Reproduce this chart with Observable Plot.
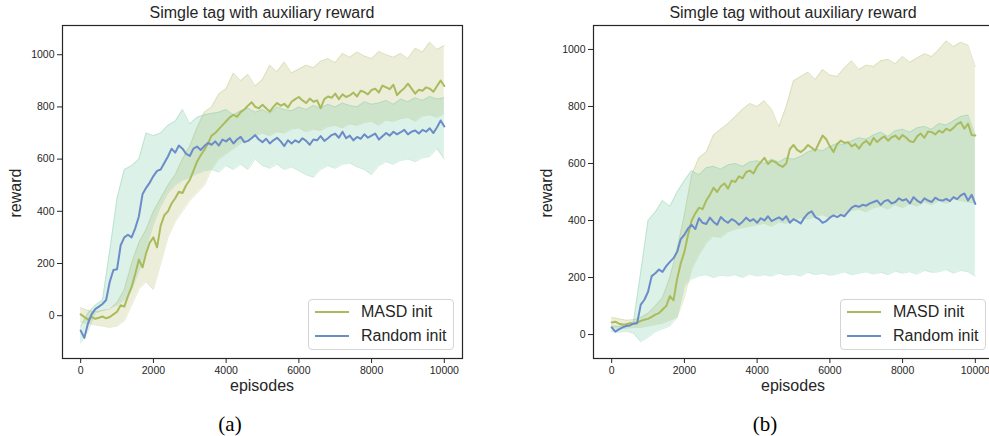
<!DOCTYPE html>
<html>
<head>
<meta charset="utf-8">
<script src="https://cdn.jsdelivr.net/npm/d3@7"></script>
<script src="https://cdn.jsdelivr.net/npm/@observablehq/plot@0.6"></script>
<style>
  html, body { margin: 0; padding: 0; background: #fff; }
  body { width: 989px; height: 436px; overflow: hidden; position: relative; font-family: "Liberation Sans", Arial, sans-serif; color: #262626; }
  .abs { position: absolute; }
  .ctr { position: absolute; transform: translate(-50%, -50%); white-space: nowrap; line-height: 16px; }
  .title { font-size: 16px; }
  .alabel { font-size: 16px; }
  .caption { font-family: "Liberation Serif", "Times New Roman", serif; font-size: 21px; color: #000; line-height: 21px; }
  .legend { position: absolute; border: 1px solid #d4d4d4; border-radius: 4px; background: rgba(255,255,255,0.85); box-sizing: border-box; }
  .legend .sw { position: absolute; height: 2px; width: 34px; }
  .legend .lt { position: absolute; font-size: 16px; line-height: 16px; transform: translateY(-50%); white-space: nowrap; }
</style>
</head>
<body>
<script>
// ---------------- data ----------------
const titles = ["Simgle tag with auxiliary reward", "Simgle tag without auxiliary reward"];
const captions = ["(a)", "(b)"];
const seriesNames = ["MASD init", "Random init"];
const xTicks = [0, 2000, 4000, 6000, 8000, 10000];
const yTicks = [0, 200, 400, 600, 800, 1000];
const episodesMean = d3.range(0, 10001, 100);   // 101 samples
const episodesBand = d3.range(0, 10001, 200);   // 51 samples

// Panel (a): with auxiliary reward
const aMasdMean = [
  5,-5,-15,-5,-12,-8,-3,-10,-5,5,
  15,40,35,75,110,160,215,185,240,280,
  300,262,345,385,400,430,450,475,470,500,
  520,555,590,615,635,660,690,700,715,730,
  745,760,770,762,780,790,805,818,800,795,
  808,795,782,800,815,805,812,798,820,830,
  838,825,815,832,820,825,795,830,840,835,
  851,830,848,838,844,855,840,862,857,848,
  865,870,855,882,875,868,885,845,860,872,
  889,870,851,866,862,875,870,858,880,901,
  880];
const aRandomMean = [
  -57,-85,-30,5,25,35,45,60,130,175,
  178,270,300,310,300,335,380,465,490,510,
  535,555,560,585,610,640,625,652,640,620,
  612,640,648,635,650,662,655,668,652,675,
  668,680,660,675,685,665,670,680,692,675,
  665,678,660,672,682,668,650,672,660,672,
  664,680,670,655,675,672,688,670,680,692,
  697,682,705,680,690,672,685,678,695,682,
  690,698,675,688,700,690,705,695,703,712,
  695,705,710,698,712,705,718,700,722,748,
  725];
const aMasdLow = [
  -25,-30,-35,-40,-45,-40,-20,40,100,130,
  100,200,300,360,400,440,470,500,560,600,
  620,640,660,680,690,700,690,705,700,715,
  720,705,715,710,725,730,720,735,730,740,
  745,730,750,745,755,760,745,765,770,760,
  775];
const aMasdHigh = [
  30,20,15,20,25,50,100,200,280,330,
  400,450,500,540,600,650,720,780,800,850,
  870,930,900,925,880,905,960,935,972,930,
  945,960,950,975,985,970,1005,990,1010,995,
  985,1012,1000,990,1005,985,1025,1010,1048,1020,
  1035];
const aRandomLow = [
  -105,-60,10,20,30,40,60,100,170,260,
  350,420,470,500,520,530,545,555,560,550,
  575,560,580,560,600,575,565,580,560,570,
  555,540,530,560,575,565,580,585,570,560,
  540,575,590,580,595,600,590,605,610,640,
  600];
const aRandomHigh = [
  -40,10,40,60,250,450,560,575,600,700,
  690,700,730,745,790,735,760,770,775,780,
  790,770,785,795,780,790,775,800,790,785,
  800,790,805,795,810,800,815,805,800,820,
  810,815,825,810,830,820,835,825,840,830,
  835];

// Panel (b): without auxiliary reward
const bMasdMean = [
  42,45,38,35,36,40,38,42,48,52,
  55,62,70,75,88,100,135,120,195,250,
  290,350,400,425,445,440,470,490,515,500,
  520,530,512,540,535,555,548,570,575,565,
  590,605,620,598,610,605,595,588,600,650,
  665,648,640,650,665,655,645,672,698,685,
  660,640,668,680,672,675,660,668,652,670,
  680,665,690,675,687,695,680,692,698,685,
  700,690,678,675,695,705,690,712,710,702,
  715,708,722,715,725,738,745,722,740,700,
  698];
const bRandomMean = [
  25,10,18,25,30,32,38,40,105,122,
  150,205,215,228,220,240,255,268,290,335,
  350,372,385,370,408,392,388,410,395,385,
  412,400,392,405,398,385,396,410,398,405,
  392,408,400,415,398,405,411,402,415,392,
  405,398,390,410,425,432,412,405,392,398,
  410,418,412,420,415,430,445,452,448,455,
  452,460,465,470,455,468,472,460,465,478,
  470,475,460,482,470,462,478,470,465,480,
  472,470,476,468,482,475,488,495,470,490,
  458];
const bMasdLow = [
  25,20,22,25,25,30,35,40,50,60,
  130,230,280,320,345,340,360,370,375,380,
  385,390,380,395,390,400,410,405,415,420,
  410,425,420,435,440,430,445,450,440,455,
  445,460,450,465,455,470,460,475,470,465,
  460];
const bMasdHigh = [
  60,55,50,52,60,75,100,130,200,300,
  420,560,620,640,700,720,740,765,790,810,
  800,820,790,730,800,890,905,920,895,930,
  910,905,935,960,930,945,940,960,965,950,
  975,955,970,985,975,1000,1030,1010,1025,1015,
  940];
const bRandomLow = [
  10,8,12,5,-25,-10,10,20,30,60,
  170,195,205,210,200,208,205,210,200,212,
  205,210,205,215,208,212,205,218,210,215,
  208,212,220,210,215,220,212,218,210,222,
  215,220,212,225,218,220,228,215,225,220,
  205];
const bRandomHigh = [
  30,28,35,45,220,400,430,470,450,500,
  540,575,560,585,590,580,595,600,590,605,
  610,600,615,605,620,615,625,640,650,645,
  660,670,665,680,690,685,700,710,695,715,
  720,710,725,730,720,740,735,750,765,770,
  700];

// ---------------- styling ----------------
const masdLine = "#a9bb5c";
const randomLine = "#6b8cc8";
const masdBand = "#b3bd6a";
const randomBand = "#6cc49a";
const ink = "#262626";

const lineRows = (vals) => episodesMean.map((ep, i) => ({ep, v: vals[i]}));
const bandRows = (lo, hi) => episodesBand.map((ep, i) => ({ep, lo: lo[i], hi: hi[i]}));

function panel(cfg) {
  const mb = bandRows(cfg.masdLow, cfg.masdHigh);
  const rb = bandRows(cfg.randomLow, cfg.randomHigh);
  return Plot.plot({
    width: cfg.width, height: 380,
    marginLeft: cfg.marginLeft, marginRight: cfg.marginRight, marginTop: 25, marginBottom: 22,
    x: {domain: [-500, 10500]},
    y: {domain: cfg.yDomain},
    style: {fontFamily: "'Liberation Sans', Arial, sans-serif", fontSize: "10.5px", color: ink, background: "transparent", overflow: "visible"},
    marks: [
      Plot.areaY(mb, {x: "ep", y1: "lo", y2: "hi", fill: masdBand, fillOpacity: 0.25}),
      Plot.lineY(mb, {x: "ep", y: "hi", stroke: masdBand, strokeOpacity: 0.3, strokeWidth: 1}),
      Plot.lineY(mb, {x: "ep", y: "lo", stroke: masdBand, strokeOpacity: 0.3, strokeWidth: 1}),
      Plot.areaY(rb, {x: "ep", y1: "lo", y2: "hi", fill: randomBand, fillOpacity: 0.24}),
      Plot.lineY(rb, {x: "ep", y: "hi", stroke: randomBand, strokeOpacity: 0.3, strokeWidth: 1}),
      Plot.lineY(rb, {x: "ep", y: "lo", stroke: randomBand, strokeOpacity: 0.3, strokeWidth: 1}),
      Plot.lineY(lineRows(cfg.masdMean), {x: "ep", y: "v", stroke: masdLine, strokeWidth: 2}),
      Plot.lineY(lineRows(cfg.randomMean), {x: "ep", y: "v", stroke: randomLine, strokeWidth: 2}),
      Plot.frame({stroke: ink, strokeWidth: 1.2}),
      Plot.axisX({ticks: xTicks, tickSize: 5, tickPadding: 3, tickFormat: d => String(d), label: null, stroke: ink}),
      Plot.axisY({ticks: yTicks, tickSize: 5, tickPadding: 3, tickFormat: d => String(d), label: null, stroke: ink})
    ]
  });
}

function place(el, left, top) {
  el.style.position = "absolute";
  el.style.left = left + "px";
  el.style.top = top + "px";
  document.body.appendChild(el);
}

function text(cls, str, cx, cy, rotate) {
  const d = document.createElement("div");
  d.className = "ctr " + cls;
  d.textContent = str;
  d.style.left = cx + "px";
  d.style.top = cy + "px";
  if (rotate) d.style.transform = "translate(-50%, -50%) rotate(-90deg)";
  document.body.appendChild(d);
}

function legend(left, top) {
  const box = document.createElement("div");
  box.className = "legend";
  box.style.left = left + "px"; box.style.top = top + "px";
  box.style.width = "146px"; box.style.height = "51px";
  [[seriesNames[0], masdLine, 12], [seriesNames[1], randomLine, 36]].forEach(([name, col, y]) => {
    const sw = document.createElement("div");
    sw.className = "sw"; sw.style.background = col;
    sw.style.left = "6px"; sw.style.top = (y - 1) + "px";
    box.appendChild(sw);
    const t = document.createElement("div");
    t.className = "lt"; t.textContent = name;
    t.style.left = "52px"; t.style.top = y + "px";
    box.appendChild(t);
  });
  document.body.appendChild(box);
}

// Panel (a)
place(panel({
  width: 470, marginLeft: 62, marginRight: 8, yDomain: [-164, 1112],
  masdMean: aMasdMean, randomMean: aRandomMean,
  masdLow: aMasdLow, masdHigh: aMasdHigh, randomLow: aRandomLow, randomHigh: aRandomHigh
}), 0, 0);

// Panel (b)
place(panel({
  width: 470, marginLeft: 63, marginRight: 7, yDomain: [-84, 1084],
  masdMean: bMasdMean, randomMean: bRandomMean,
  masdLow: bMasdLow, masdHigh: bMasdHigh, randomLow: bRandomLow, randomHigh: bRandomHigh
}), 530, 0);

text("title", titles[0], 262, 13);
text("title", titles[1], 793, 13);
text("alabel", "episodes", 262, 386);
text("alabel", "episodes", 793, 386);
text("alabel", "reward", 16, 193, true);
text("alabel", "reward", 547, 193, true);
text("caption", captions[0], 230, 424);
text("caption", captions[1], 765, 424);
legend(308, 299);
legend(840, 299);
</script>
</body>
</html>
